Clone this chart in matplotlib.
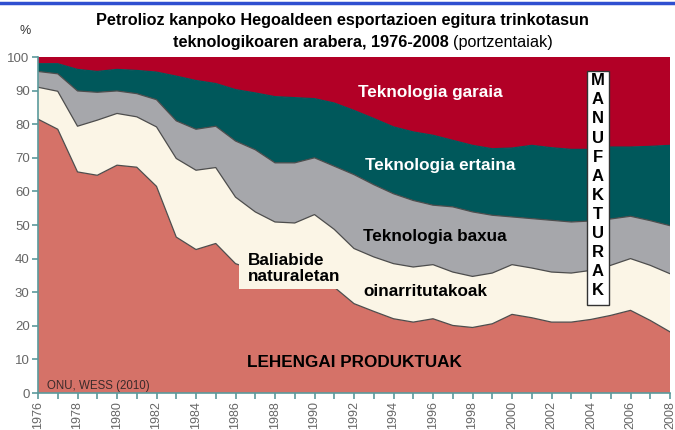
import numpy as np
import matplotlib as mpl
mpl.use('Agg')
import matplotlib.pyplot as plt
from matplotlib.lines import Line2D
from matplotlib.patches import Rectangle

mpl.rcParams['font.family'] = ['Liberation Sans', 'DejaVu Sans']

#### DATA (cumulative upper edges of each band, %) ####
years = list(range(1976, 2009))

lehengai_top = [81.5, 78.5, 65.8, 64.8, 67.8, 67.2, 61.5, 46.4, 42.7, 44.5, 38.5,
                36.5, 35.0, 33.5, 32.5, 31.5, 26.6, 24.3, 22.1, 21.1, 22.1, 20.1,
                19.5, 20.6, 23.4, 22.4, 21.1, 21.1, 21.9, 23.1, 24.6, 21.6, 18.2]
baliabide_top = [91.0, 89.8, 79.4, 81.2, 83.2, 82.2, 79.2, 69.8, 66.3, 67.1, 58.3,
                 53.9, 50.9, 50.6, 53.1, 48.7, 43.0, 40.5, 38.5, 37.5, 38.2, 36.0,
                 34.7, 35.7, 38.2, 37.2, 36.0, 35.7, 36.5, 38.0, 40.0, 38.0, 35.5]
baxua_top = [95.7, 95.0, 89.9, 89.5, 89.9, 89.1, 87.3, 81.0, 78.5, 79.4, 75.0,
             72.4, 68.5, 68.5, 70.0, 67.5, 65.0, 62.0, 59.3, 57.3, 55.9, 55.4,
             53.9, 52.9, 52.4, 51.9, 51.4, 50.9, 51.2, 51.8, 52.6, 51.3, 49.8]
ertaina_top = [98.0, 98.0, 96.3, 95.7, 96.3, 96.0, 95.5, 94.3, 93.0, 92.1, 90.3,
               89.3, 88.2, 87.9, 87.6, 86.3, 84.1, 81.7, 79.2, 77.7, 76.7, 75.2,
               73.7, 72.7, 72.9, 73.7, 73.0, 72.5, 72.5, 73.2, 73.2, 73.4, 73.7]
garaia_top = [100.0] * len(years)

bands = [lehengai_top, baliabide_top, baxua_top, ertaina_top, garaia_top]
colors = ['#d57268', '#fbf5e6', '#a6a7ab', '#00585b', '#b20026']
edges = ['#4d4d4d', '#4d4d4d', '#4d4d4d', '#00585b', '#b20026']

fig = plt.figure(figsize=(6.75, 4.3), dpi=100)
ax = fig.add_axes([38 / 675, 37 / 430, 632 / 675, 336 / 430])

x = np.array(years)
lower = np.zeros(len(years))
for top, c, ec in zip(bands, colors, edges):
    top = np.array(top)
    ax.fill_between(x, lower, top, facecolor=c, edgecolor='none', zorder=1)
    ax.plot(x, top, color=ec, linewidth=0.9, zorder=2)
    lower = top

ax.set_xlim(1976, 2008)
ax.set_ylim(0, 100)

axcol = '#5b9a9c'
for s in ['top', 'right']:
    ax.spines[s].set_visible(False)
for s in ['left', 'bottom']:
    ax.spines[s].set_color(axcol)
    ax.spines[s].set_linewidth(1.2)
    ax.spines[s].set_zorder(3)

ax.set_xticks(range(1976, 2009, 2))
ax.set_xticks(range(1976, 2009), minor=True)
ax.set_yticks(range(0, 101, 10))
ax.tick_params(axis='x', which='both', direction='out', length=4, width=1.2,
               color=axcol, labelsize=9, labelcolor='#666666', labelrotation=90, pad=2)
ax.tick_params(axis='y', direction='out', length=4, width=1.2, color=axcol,
               labelsize=9.5, labelcolor='#666666', pad=2)

# title
fig.add_artist(Line2D([0, 1], [0.994, 0.994], color='#2f4fd0', linewidth=2.5))
fig.text(342 / 675, 1 - 20 / 430, 'Petrolioz kanpoko Hegoaldeen esportazioen egitura trinkotasun',
         ha='center', va='center', fontsize=11.7, fontweight='bold')
fig.text(449 / 675, 1 - 42 / 430, 'teknologikoaren arabera, 1976-2008',
         ha='right', va='center', fontsize=11.7, fontweight='bold')
fig.text(453 / 675, 1 - 42 / 430, '(portzentaiak)',
         ha='left', va='center', fontsize=11.7)
fig.text(25 / 675, 1 - 31 / 430, '%', ha='center', va='center', fontsize=9, color='#333333')

# band labels
lab = dict(fontsize=12.3, fontweight='bold', ha='left', va='center', zorder=4)
ax.text(1992.2, 89.5, 'Teknologia garaia', color='white', **lab)
ax.text(1992.55, 67.8, 'Teknologia ertaina', color='white', **lab)
ax.text(1992.45, 46.6, 'Teknologia baxua', color='black', **lab)
ax.text(1992.45, 30.3, 'oinarritutakoak', color='black', **lab)
ax.text(1986.6, 9.1, 'LEHENGAI PRODUKTUAK', color='black', **lab)
ax.text(1976.45, 2.0, 'ONU, WESS (2010)', color='#3a2a2a', fontsize=8.3,
        ha='left', va='center', zorder=4)

# Baliabide box
ax.add_patch(Rectangle((1986.2, 31.0), 5.3, 12.0, facecolor='#fbf5e6',
                       edgecolor='none', zorder=3))
ax.text(1986.65, 37.0, 'Baliabide\nnaturaletan', color='black', fontsize=12.3,
        fontweight='bold', ha='left', va='center', linespacing=1.05, zorder=4)

# MANUFAKTURAK box
ax.add_patch(Rectangle((2003.78, 26.3), 1.15, 69.6, facecolor='white',
                       edgecolor='#333333', linewidth=1.0, zorder=3))
word = 'MANUFAKTURAK'
for i, ch in enumerate(word):
    ax.text(2004.35, 92.9 - i * 5.67, ch, color='black', fontsize=12,
            fontweight='bold', ha='center', va='center', zorder=4)

fig.savefig('out.png', dpi=100)
